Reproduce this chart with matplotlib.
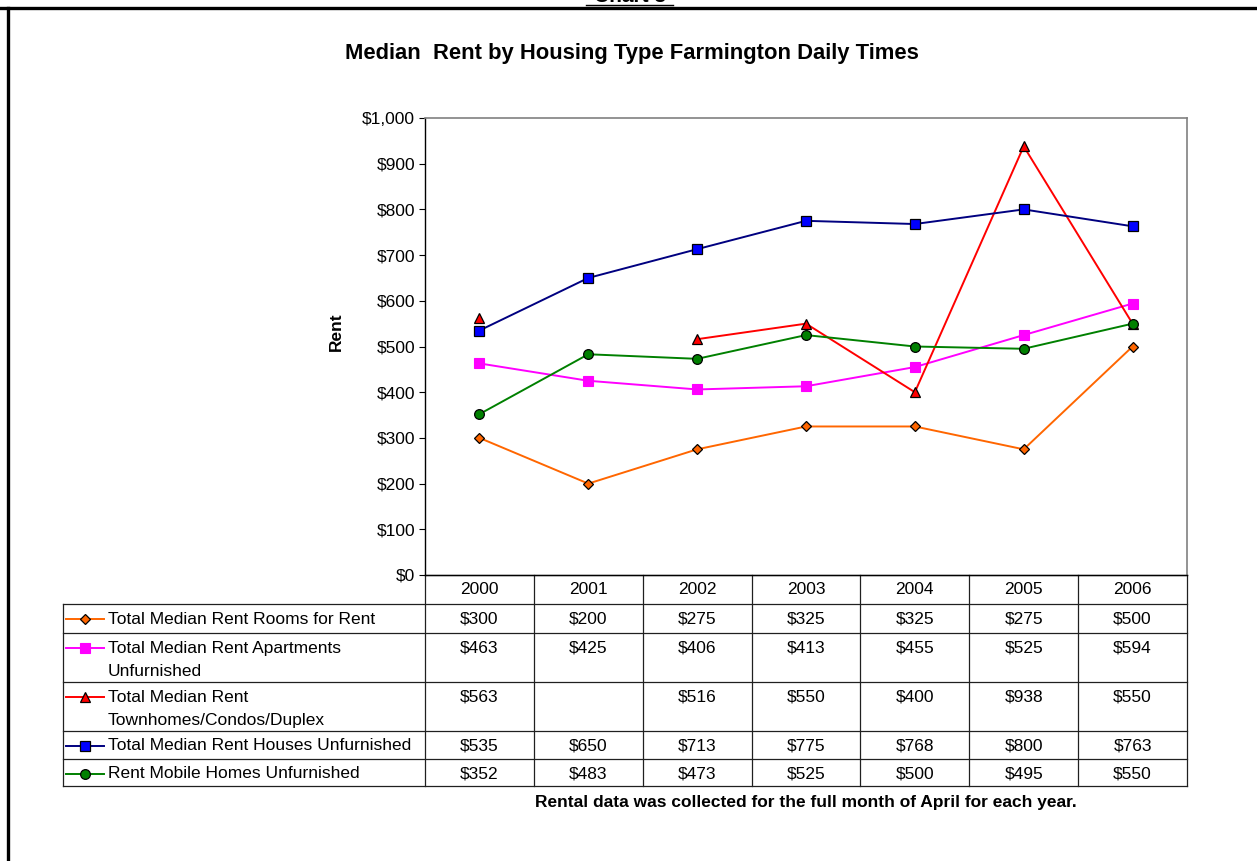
import matplotlib
matplotlib.use('Agg')
import matplotlib.pyplot as plt
import numpy as np
from matplotlib.ticker import FuncFormatter, MultipleLocator

plt.rcParams['font.family'] = ['Liberation Sans', 'DejaVu Sans']

# ---------------- data ----------------
years = ['2000', '2001', '2002', '2003', '2004', '2005', '2006']
rooms = [300, 200, 275, 325, 325, 275, 500]
apartments = [463, 425, 406, 413, 455, 525, 594]
townhomes = [563, np.nan, 516, 550, 400, 938, 550]
houses = [535, 650, 713, 775, 768, 800, 763]
mobile = [352, 483, 473, 525, 500, 495, 550]

series_labels = [
    ['Total Median Rent Rooms for Rent'],
    ['Total Median Rent Apartments', 'Unfurnished'],
    ['Total Median Rent', 'Townhomes/Condos/Duplex'],
    ['Total Median Rent Houses Unfurnished'],
    ['Rent Mobile Homes Unfurnished'],
]
series_values = [rooms, apartments, townhomes, houses, mobile]

title = 'Median  Rent by Housing Type Farmington Daily Times'
ylabel = 'Rent'
footnote = 'Rental data was collected for the full month of April for each year.'
caption = 'Chart 8'

styles = [
    dict(color='#FF6600', marker='D', mfc='#FF6600', mec='black', ms=5.2, mew=0.9),
    dict(color='#FF00FF', marker='s', mfc='#FF00FF', mec='#FF00FF', ms=7, mew=0.8),
    dict(color='#FF0000', marker='^', mfc='#FF0000', mec='black', ms=7, mew=0.9),
    dict(color='#000080', marker='s', mfc='#0000FF', mec='black', ms=7, mew=0.9),
    dict(color='#008000', marker='o', mfc='#008000', mec='black', ms=7, mew=0.9),
]

W, H = 1257, 861
fig = plt.figure(figsize=(W / 100, H / 100), dpi=100)
fig.patch.set_facecolor('white')

# overlay axes in pixel coordinates (top-left origin)
tab = fig.add_axes([0, 0, 1, 1])
tab.set_xlim(0, W)
tab.set_ylim(H, 0)
tab.axis('off')

# main plot
ax = fig.add_axes([425 / W, 1 - 575 / H, (1187 - 425) / W, (575 - 118) / H])
ax.set_facecolor('none')
x = np.arange(len(years))
for vals, st in zip(series_values, styles):
    ax.plot(x, vals, lw=1.4, color=st['color'], marker=st['marker'],
            markerfacecolor=st['mfc'], markeredgecolor=st['mec'],
            markersize=st['ms'], markeredgewidth=st['mew'], clip_on=False, zorder=3)
ax.set_xlim(-0.5, len(years) - 0.5)
ax.set_ylim(0, 1000)
ax.yaxis.set_major_locator(MultipleLocator(100))
ax.yaxis.set_major_formatter(FuncFormatter(lambda v, p: '${:,.0f}'.format(v)))
ax.set_xticks([])
ax.tick_params(axis='y', direction='out', length=4, width=0.8, labelsize=12.5, pad=3)
for s in ['top', 'right']:
    ax.spines[s].set_color('#808080')
    ax.spines[s].set_linewidth(1.2)
for s in ['left', 'bottom']:
    ax.spines[s].set_color('black')
    ax.spines[s].set_linewidth(1.0)
ax.set_ylabel(ylabel, fontsize=12.5, fontweight='bold')
ax.yaxis.set_label_coords((344 - 425) / (1187 - 425), (575 - 332) / (575 - 118))

# ---------------- table ----------------
fig.canvas.draw()
col_edges = [ax.transData.transform((i - 0.5, 0))[0] for i in range(len(years) + 1)]
col_centers = [ax.transData.transform((i, 0))[0] for i in range(len(years))]
left_x = 63
right_x = col_edges[-1]
header_top, header_bot = 575, 604
row_edges = [604, 633, 682, 731, 759, 786]
lc = '#202020'
lw = 0.9

tab.plot([col_edges[0], right_x], [header_top, header_top], color=lc, lw=lw)
for y in row_edges:
    tab.plot([left_x, right_x], [y, y], color=lc, lw=lw)
tab.plot([left_x, left_x], [row_edges[0], row_edges[-1]], color=lc, lw=lw)
for xe in col_edges:
    tab.plot([xe, xe], [header_top, row_edges[-1]], color=lc, lw=lw)

fs = 12.5
for xc, yr in zip(col_centers, years):
    tab.text(xc, (header_top + header_bot) / 2 + 0.5, yr, ha='center', va='center', fontsize=fs)

for r, (lab, vals, st) in enumerate(zip(series_labels, series_values, styles)):
    top = row_edges[r]
    y0 = top + 15
    tab.plot([66, 104], [y0, y0], color=st['color'], lw=1.4)
    tab.plot([85], [y0], marker=st['marker'], markerfacecolor=st['mfc'],
             markeredgecolor=st['mec'], markersize=st['ms'], markeredgewidth=st['mew'],
             color=st['color'])
    for k, line in enumerate(lab):
        tab.text(108, y0 + k * 23, line, ha='left', va='center', fontsize=fs)
    for xc, v in zip(col_centers, vals):
        if v is None or (isinstance(v, float) and np.isnan(v)):
            continue
        tab.text(xc, y0, '${:,.0f}'.format(v), ha='center', va='center', fontsize=fs)

# title, footnote
tab.text(632, 53, title, ha='center', va='center', fontsize=15.8, fontweight='bold')
tab.text(806, 802, footnote, ha='center', va='center', fontsize=12.5, fontweight='bold')

# page frame and cut-off caption
tab.plot([0, W], [8, 8], color='black', lw=2.4)
tab.plot([8, 8], [8, H], color='black', lw=2.4)
tab.text(630, 2.5, caption, ha='center', va='baseline', fontsize=15, fontweight='bold')
tab.plot([586, 673], [4.5, 4.5], color='black', lw=1.0)

fig.savefig('out.png', dpi=100, facecolor='white')
